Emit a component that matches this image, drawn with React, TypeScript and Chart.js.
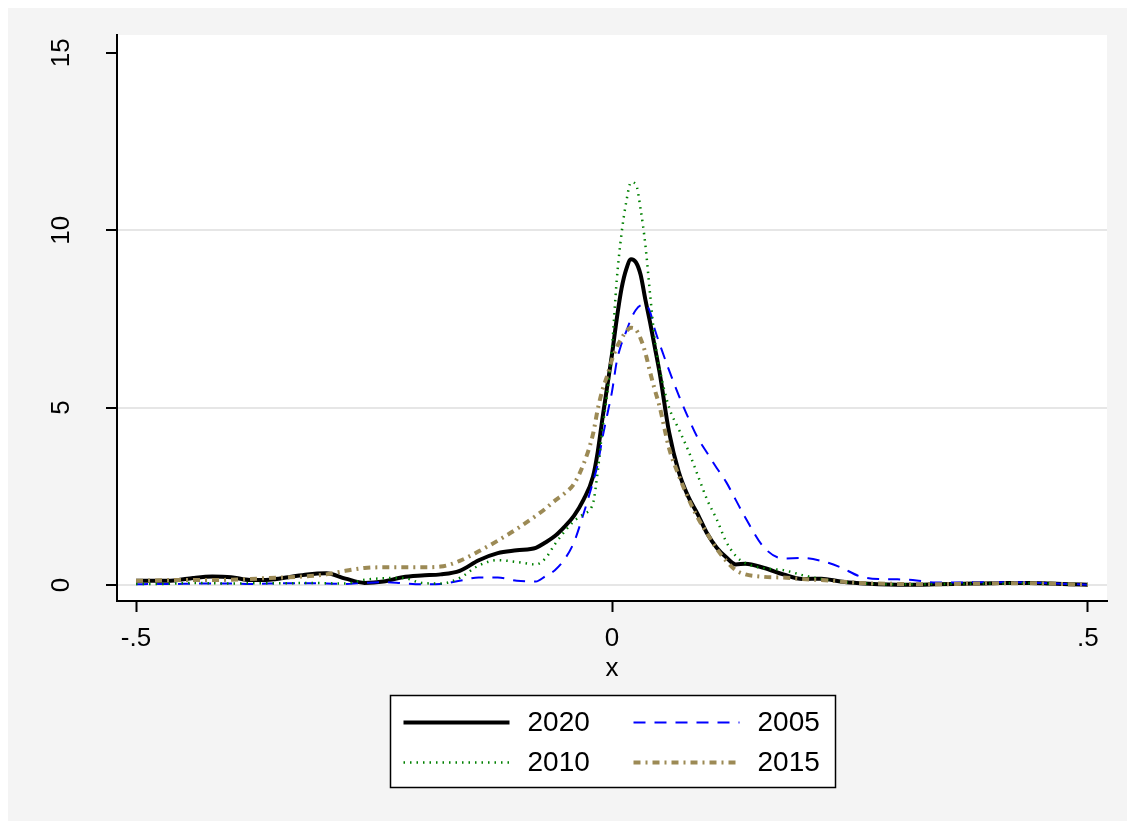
import React, { useEffect, useRef } from "react";
import { Chart, registerables } from "chart.js";

Chart.register(...registerables);

const xValues = [
  -0.5, -0.48, -0.46, -0.44, -0.42, -0.4, -0.38, -0.36, -0.34, -0.32,
  -0.3, -0.28, -0.26, -0.24, -0.22, -0.2, -0.18, -0.16, -0.14, -0.12,
  -0.1, -0.08, -0.07, -0.06, -0.05, -0.04, -0.03, -0.02, -0.015, -0.01,
  -0.005, 0, 0.005, 0.01, 0.015, 0.02, 0.025, 0.03, 0.035, 0.04,
  0.045, 0.05, 0.06, 0.07, 0.08, 0.09, 0.1, 0.11, 0.12, 0.13,
  0.14, 0.16, 0.18, 0.2, 0.22, 0.24, 0.26, 0.28, 0.3, 0.32,
  0.34, 0.36, 0.38, 0.4, 0.42, 0.44, 0.46, 0.48, 0.5,
];

const y2020 = [
  0.12, 0.12, 0.13, 0.2, 0.24, 0.22, 0.14, 0.15, 0.22, 0.3,
  0.33, 0.18, 0.06, 0.1, 0.22, 0.27, 0.3, 0.4, 0.7, 0.9,
  0.98, 1.05, 1.2, 1.38, 1.64, 1.95, 2.4, 3.05, 3.75, 4.7,
  5.6, 6.5, 7.5, 8.35, 8.9, 9.18, 9.1, 8.75, 8.05, 7.4,
  6.7, 5.99, 4.3, 3.2, 2.5, 2.0, 1.45, 1.05, 0.78, 0.58,
  0.6, 0.48, 0.3, 0.17, 0.18, 0.1, 0.05, 0.02, 0.01, 0.01,
  0.02, 0.03, 0.04, 0.05, 0.06, 0.06, 0.04, 0.02, 0.01,
];

const y2005 = [
  0.02, 0.03, 0.03, 0.04, 0.04, 0.04, 0.03, 0.04, 0.05, 0.05,
  0.04, 0.03, 0.06, 0.08, 0.05, 0.02, 0.03, 0.12, 0.21, 0.21,
  0.12, 0.1, 0.25, 0.42, 0.72, 1.2, 2.0, 2.9, 3.4, 4.15,
  4.8, 5.45, 6.3, 6.8, 7.15, 7.5, 7.75, 7.88, 7.9, 7.7,
  7.2, 6.8, 6.05, 5.35, 4.72, 4.15, 3.72, 3.3, 2.9, 2.4,
  1.9, 1.05, 0.75, 0.76, 0.68, 0.5, 0.25, 0.17, 0.16, 0.13,
  0.07, 0.07, 0.08, 0.08, 0.08, 0.07, 0.05, 0.03, 0.01,
];

const y2010 = [
  0.03, 0.03, 0.04, 0.06, 0.05, 0.04, 0.05, 0.05, 0.05, 0.06,
  0.05, 0.04, 0.15, 0.19, 0.2, 0.06, 0.04, 0.2, 0.55, 0.7,
  0.65, 0.58, 0.75, 1.15, 1.5, 1.8, 2.0, 2.3, 3.2, 4.4,
  5.4, 6.7, 8.6, 9.9, 10.8, 11.35, 11.3, 10.6, 9.6, 8.2,
  6.9, 6.1, 5.0, 4.4, 3.8, 3.1, 2.4, 1.85, 1.22, 0.82,
  0.62, 0.47, 0.42, 0.28, 0.17, 0.09, 0.05, 0.03, 0.02, 0.02,
  0.03, 0.03, 0.04, 0.04, 0.05, 0.05, 0.04, 0.03, 0.02,
];

const y2015 = [
  0.12, 0.13, 0.14, 0.14, 0.14, 0.15, 0.17, 0.2, 0.22, 0.25,
  0.3, 0.4, 0.48, 0.5, 0.5, 0.5, 0.52, 0.68, 0.95, 1.25,
  1.58, 1.95, 2.15, 2.38, 2.58, 2.85, 3.4, 4.25, 4.95, 5.5,
  5.9, 6.35, 6.7, 6.95, 7.15, 7.25, 7.2, 6.95, 6.55, 6.0,
  5.5, 5.03, 3.85, 3.1, 2.45, 1.9, 1.45, 1.02, 0.68, 0.42,
  0.3, 0.23, 0.21, 0.17, 0.14, 0.1, 0.06, 0.04, 0.03, 0.02,
  0.02, 0.03, 0.04, 0.05, 0.05, 0.05, 0.04, 0.02, 0.01,
];

const seriesLabels = ["2020", "2005", "2010", "2015"];
const seriesValues = [y2020, y2005, y2010, y2015];
const seriesColors = ["#000000", "#0000ff", "#008000", "#9c8a55"];
const seriesWidths = [4, 2, 2.5, 4];
const seriesDashes: number[][] = [[], [12, 9], [1.5, 5], [7, 5, 2, 5]];
const seriesOrder = [4, 3, 2, 1];

const xTickValues = [-0.5, 0, 0.5];
const yTickValues = [0, 5, 10, 15];
const xTitle = "x";

const FONT = '"Liberation Sans", Arial, Helvetica, sans-serif';
const CANVAS_W = 1130;
const CANVAS_H = 830;
const BG = "#f4f4f4";

function fmtX(v: number): string {
  if (v === 0) return "0";
  const s = String(Math.abs(v)).replace(/^0/, "");
  return (v < 0 ? "-" : "") + s;
}

const backgroundPlugin = {
  id: "stataBackground",
  beforeDraw(chart: any) {
    const { ctx, chartArea } = chart;
    ctx.save();
    ctx.fillStyle = BG;
    ctx.fillRect(0, 0, chart.width, chart.height);
    ctx.fillStyle = "#ffffff";
    ctx.fillRect(
      chartArea.left,
      chartArea.top,
      chartArea.right - chartArea.left,
      chartArea.bottom - chartArea.top
    );
    ctx.restore();
  },
};

const yLabelPlugin = {
  id: "rotatedYLabels",
  afterDraw(chart: any) {
    const { ctx } = chart;
    const scale = chart.scales.y;
    ctx.save();
    ctx.fillStyle = "#000";
    ctx.font = `26px ${FONT}`;
    ctx.textAlign = "center";
    ctx.textBaseline = "middle";
    for (const v of yTickValues) {
      const py = scale.getPixelForValue(v);
      ctx.save();
      ctx.translate(54, py);
      ctx.rotate(-Math.PI / 2);
      ctx.fillText(String(v), 0, 0);
      ctx.restore();
    }
    ctx.restore();
  },
};

const legendPlugin = {
  id: "boxLegend",
  afterDraw(chart: any) {
    const { ctx, chartArea } = chart;
    const w = 445;
    const h = 92;
    const left = Math.round((chartArea.left + chartArea.right) / 2 - w / 2) + 0.5;
    const top = Math.round(chartArea.bottom + 94) + 0.5;
    ctx.save();
    ctx.fillStyle = "#ffffff";
    ctx.fillRect(left, top, w, h);
    ctx.strokeStyle = "#000";
    ctx.lineWidth = 1.5;
    ctx.setLineDash([]);
    ctx.strokeRect(left, top, w, h);
    const colLine = [13, 243];
    const colText = [137, 367];
    const rowY = [27, 67];
    const lineLen = 106;
    ctx.font = `28px ${FONT}`;
    ctx.textAlign = "left";
    ctx.textBaseline = "middle";
    seriesLabels.forEach((lab, i) => {
      const col = i % 2;
      const row = Math.floor(i / 2);
      const y = top + rowY[row];
      ctx.beginPath();
      ctx.strokeStyle = seriesColors[i];
      ctx.lineWidth = seriesWidths[i];
      ctx.setLineDash(seriesDashes[i]);
      ctx.moveTo(left + colLine[col], y);
      ctx.lineTo(left + colLine[col] + lineLen, y);
      ctx.stroke();
      ctx.setLineDash([]);
      ctx.fillStyle = "#000";
      ctx.fillText(lab, left + colText[col], y + 1);
    });
    ctx.restore();
  },
};

export default function App() {
  const canvasRef = useRef<HTMLCanvasElement | null>(null);

  useEffect(() => {
    document.body.style.overflow = "hidden";
    const canvas = canvasRef.current;
    if (!canvas) return;

    const datasets = seriesLabels.map((label, i) => ({
      label,
      data: xValues.map((x, j) => ({ x, y: seriesValues[i][j] })),
      borderColor: seriesColors[i],
      borderWidth: seriesWidths[i],
      borderDash: seriesDashes[i],
      pointRadius: 0,
      fill: false,
      cubicInterpolationMode: "monotone" as const,
      order: seriesOrder[i],
    }));

    const chart = new Chart(canvas, {
      type: "line",
      data: { datasets },
      options: {
        animation: false,
        responsive: false,
        devicePixelRatio: 1,
        layout: {
          padding: { left: 0, right: CANVAS_W - 1099, top: 27, bottom: CANVAS_H - 683 },
        },
        plugins: {
          legend: { display: false },
          tooltip: { enabled: false },
        },
        scales: {
          x: {
            type: "linear",
            min: -0.52,
            max: 0.52,
            afterBuildTicks: (s: any) => {
              s.ticks = xTickValues.map((v) => ({ value: v }));
            },
            afterFit: (s: any) => {
              s.height = 90;
            },
            ticks: {
              callback: (v: any) => fmtX(Number(v)),
              font: { family: FONT, size: 26 },
              color: "#000",
              padding: 11,
              maxRotation: 0,
              minRotation: 0,
              autoSkip: false,
            },
            grid: {
              drawOnChartArea: false,
              drawTicks: true,
              tickLength: 11,
              tickColor: "#000",
              tickWidth: 2,
            },
            border: { display: true, color: "#000", width: 2 },
            title: {
              display: true,
              text: xTitle,
              font: { family: FONT, size: 26 },
              color: "#000",
              padding: { top: 0, bottom: 7 },
            },
          },
          y: {
            type: "linear",
            min: -0.45,
            max: 15.5,
            afterBuildTicks: (s: any) => {
              s.ticks = yTickValues.map((v) => ({ value: v }));
            },
            afterFit: (s: any) => {
              s.width = 109;
            },
            ticks: { display: false },
            grid: {
              color: (c: any) =>
                c.tick && c.tick.value === 15 ? "rgba(0,0,0,0)" : "#e6e6e6",
              lineWidth: 2,
              drawTicks: true,
              tickLength: 11,
              tickColor: "#000",
              tickWidth: 2,
            },
            border: { display: true, color: "#000", width: 2 },
          },
        },
      } as any,
      plugins: [backgroundPlugin, yLabelPlugin, legendPlugin],
    });

    return () => {
      chart.destroy();
    };
  }, []);

  return (
    <div
      style={{
        position: "fixed",
        left: 8,
        top: 8,
        right: 0,
        bottom: 0,
        background: BG,
        overflow: "hidden",
      }}
    >
      <canvas
        ref={canvasRef}
        width={CANVAS_W}
        height={CANVAS_H}
        style={{ display: "block", width: CANVAS_W, height: CANVAS_H }}
      />
    </div>
  );
}
